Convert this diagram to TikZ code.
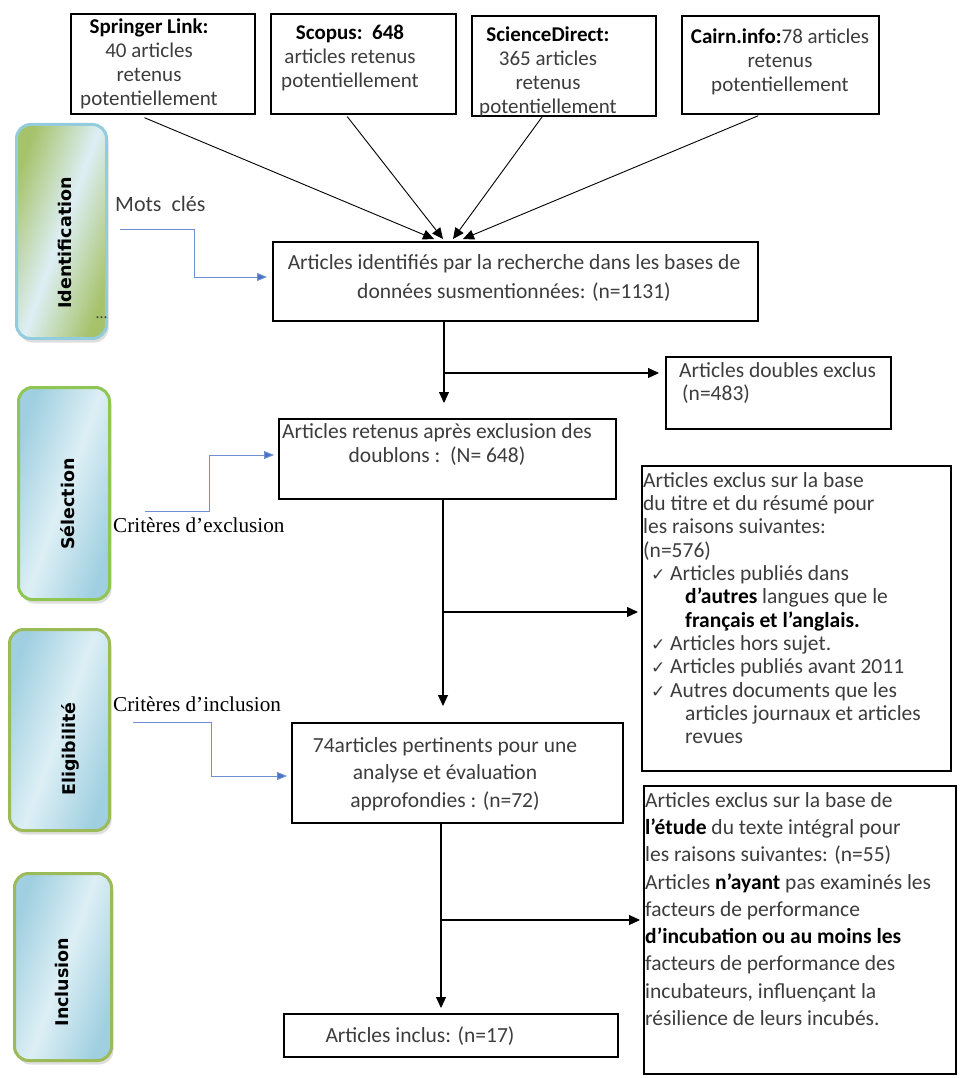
\documentclass[tikz,border=0pt]{standalone}
\usepackage{fontspec}
\setmainfont{Carlito}
\newfontfamily\phasefont{DejaVu Sans}
\newfontfamily\serifont{Liberation Serif}
\newfontfamily\checkfont{DejaVu Sans}
\usetikzlibrary{arrows.meta,shadows}
\definecolor{txtgray}{HTML}{3C3C3C}
\definecolor{linkblue}{HTML}{6F8FD0}
\definecolor{tipblue}{HTML}{4472C4}
\definecolor{idborder}{HTML}{93CDDD}
\definecolor{selborder}{HTML}{8FC653}
\definecolor{eliborder}{HTML}{9BBB59}
\definecolor{phlight}{HTML}{DDEFF5}
\definecolor{phblue}{HTML}{9FCFE0}
\definecolor{idgreen}{HTML}{A6C26A}
\newcommand\chk{\makebox[19pt][l]{\checkfont\fontsize{17}{17}\selectfont ✓}}
\newcommand\bk[1]{{\bfseries\color{black}#1}}
\begin{document}
\begin{tikzpicture}[x=1pt,y=-1pt,
  box/.style={draw=black,line width=2pt,inner sep=0pt,anchor=north west},
  txt/.style={inner sep=0pt,text=txtgray,align=center,anchor=north},
  txtl/.style={inner sep=0pt,text=txtgray,align=left,anchor=north west},
  conn/.style={draw=black,line width=1.1pt,-{Triangle[length=11pt,width=10pt]}},
  thin/.style={draw=black,line width=0.9pt,-{Triangle[length=11pt,width=10pt]}},
  bconn/.style={draw=linkblue,line width=1pt,-{Triangle[length=10pt,width=8pt,fill=tipblue]}},
  phase/.style={draw,line width=3pt,rounded corners=14pt,anchor=north west,inner sep=0pt,
    drop shadow={shadow xshift=2pt,shadow yshift=-4pt,opacity=0.25}},
  phtxt/.style={inner sep=0pt,font=\phasefont\bfseries\fontsize{17.5}{18}\selectfont,text=black},
  lbl/.style={inner sep=0pt,text=txtgray,font=\fontsize{22}{24}\selectfont},
  crit/.style={inner sep=0pt,text=black,font=\serifont\fontsize{21.2}{23}\selectfont}
]
\useasboundingbox (0,0) rectangle (960,1078);

% ---------- phase boxes ----------
\node[phase,draw=idborder,left color=idgreen,right color=idgreen,middle color=phlight,shading angle=70,
  minimum width=90pt,minimum height=214pt] (pid) at (15,123) {};
\node[phase,draw=selborder,left color=phblue,right color=phblue,middle color=phlight,shading angle=70,
  minimum width=91pt,minimum height=212pt] (psel) at (17,386) {};
\node[phase,draw=eliborder,left color=phblue,right color=phblue,middle color=phlight,shading angle=70,
  minimum width=100pt,minimum height=201pt] (peli) at (8,628) {};
\node[phase,draw=eliborder,left color=phblue,right color=phblue,middle color=phlight,shading angle=70,
  minimum width=97pt,minimum height=187pt] (pinc) at (13,872) {};
\node[phtxt] (tid) at (65,243) {\rotatebox{90}{Identification}};
\node[phtxt] (tsel) at (68,504) {\rotatebox{90}{Sélection}};
\node[phtxt] (teli) at (70,749) {\rotatebox{90}{Eligibilité}};
\node[phtxt] (tinc) at (62,982) {\rotatebox{90}{Inclusion}};

% ---------- top source boxes ----------
\node[box,minimum width=184pt,minimum height=100pt] (spr) at (70,13) {};
\node[box,minimum width=185pt,minimum height=100pt] (sco) at (270,13) {};
\node[box,minimum width=184pt,minimum height=100pt] (sd) at (471,15) {};
\node[box,minimum width=197pt,minimum height=98pt] (cai) at (681,15) {};

\node[txt,font=\fontsize{21}{23.7}\selectfont] (tspr) at (149,19)
  {\bk{Springer Link:}\\40 articles\\retenus\\potentiellement};
\node[txt,font=\fontsize{21}{24}\selectfont] (tsco) at (350,25)
  {\bk{Scopus:\ \ 648}\\articles retenus\\potentiellement};
\node[txt,font=\fontsize{21}{23.7}\selectfont] (tsd) at (548,27)
  {\bk{ScienceDirect:}\\365 articles\\retenus\\potentiellement};
\node[txt,font=\fontsize{21}{24}\selectfont] (tcai) at (780,29)
  {\bk{Cairn.info:}78 articles\\retenus\\potentiellement};

% ---------- main flow boxes ----------
\node[box,minimum width=485pt,minimum height=79pt] (b1) at (272,241) {};
\node[txt,font=\fontsize{21.5}{29}\selectfont] (tb1) at (514,254)
  {Articles identifiés par la recherche dans les bases de\\données susmentionnées: (n=1131)};

\node[box,minimum width=225pt,minimum height=72pt] (dbl) at (665,356) {};
\node[txtl,font=\fontsize{21.5}{23}\selectfont] (tdbl) at (679,362)
  {Articles doubles exclus\\\hspace*{3pt}(n=483)};

\node[box,minimum width=337pt,minimum height=80pt] (b2) at (278,418) {};
\node[txt,font=\fontsize{21.5}{24}\selectfont] (tb2) at (437,423)
  {Articles retenus après exclusion des\\doublons :\ \ (N= 648)};

\node[box,minimum width=309pt,minimum height=305pt] (ex1) at (641,465) {};
\node[txtl,font=\fontsize{21.5}{23.35}\selectfont] (tex1) at (643,472)
  {Articles exclus sur la base\\
   du titre et du résumé pour\\
   les raisons suivantes:\\
   (n=576)\\
   \hspace*{8pt}\chk Articles publiés dans\\
   \hspace*{42pt}\bk{d’autres} langues que le\\
   \hspace*{42pt}\bk{français et l’anglais.}\\
   \hspace*{8pt}\chk Articles hors sujet.\\
   \hspace*{8pt}\chk Articles publiés avant 2011\\
   \hspace*{8pt}\chk Autres documents que les\\
   \hspace*{42pt}articles journaux et articles\\
   \hspace*{42pt}revues};

\node[box,minimum width=331pt,minimum height=100pt] (b3) at (291,722) {};
\node[txt,font=\fontsize{21.5}{27.5}\selectfont] (tb3) at (445,737)
  {74articles pertinents pour une\\analyse et évaluation\\approfondies : (n=72)};

\node[box,minimum width=312pt,minimum height=288pt] (ex2) at (643,785) {};
\node[txtl,font=\fontsize{21.5}{27.3}\selectfont] (tex2) at (645,792)
  {Articles exclus sur la base de\\
   \bk{l’étude} du texte intégral pour\\
   les raisons suivantes: (n=55)\\
   Articles \bk{n’ayant} pas examinés les\\
   facteurs de performance\\
   \bk{d’incubation ou au moins les}\\
   facteurs de performance des\\
   incubateurs, influençant la\\
   résilience de leurs incubés.};

\node[box,minimum width=334pt,minimum height=43pt] (b4) at (283,1013) {};
\node[txt,font=\fontsize{21.5}{23}\selectfont] (tb4) at (420,1027)
  {Articles inclus: (n=17)};

% ---------- side labels ----------
\node[lbl,anchor=west] (mots) at (115,204) {Mots\ \ clés};
\node[lbl,anchor=west] (dots) at (96,318) {\fontsize{16}{16}\selectfont …};
\node[crit,anchor=west] (cexc) at (113,525) {Critères d’exclusion};
\node[crit,anchor=west] (cinc) at (113,704) {Critères d’inclusion};

% ---------- connectors: sources to b1 ----------
\coordinate (e1) at (434,239);
\coordinate (e2) at (443,239);
\coordinate (e3) at (453,239);
\coordinate (e4) at (463,239);
\draw[thin,shorten <=7pt] (spr.south -| 138,0) -- (e1);
\draw[thin,shorten <=2pt] (sco.south -| 346,0) -- (e2);
\draw[thin,shorten <=0pt] (sd.south -| 542,0) -- (e3);
\draw[thin,shorten <=2pt] (cai.south -| 760,0) -- (e4);

% ---------- main vertical flow ----------
\coordinate (v1) at (444,0);
\coordinate (v2) at (443,0);
\coordinate (v3) at (441,0);
\draw[conn,shorten >=15pt] (v1 |- b1.south) -- (v1 |- b2.north);
\draw[conn,shorten >=16pt] (v2 |- b2.south) -- (v2 |- b3.north);
\draw[conn,shorten >=5pt] (v3 |- b3.south) -- (v3 |- b4.north);

\coordinate (j1) at (444,373);
\coordinate (j2) at (443,612);
\coordinate (j3) at (441,920);
\draw[conn,shorten >=6pt] (j1) -- (j1 -| dbl.west);
\draw[conn,shorten >=3pt] (j2) -- (j2 -| ex1.west);
\draw[conn,shorten >=3pt] (j3) -- (j3 -| ex2.west);

% ---------- blue connectors ----------
\coordinate (m0) at (120,229);
\coordinate (x0) at (145,511);
\coordinate (i0) at (133,722);
\draw[bconn,shorten >=5pt] (m0) -- (194,229) -- (194,277) -- (b1.west |- 0,277);
\draw[bconn,shorten >=4pt] (x0) -- (209,511) -- (209,455) -- (b2.west |- 0,455);
\draw[bconn,shorten >=4pt] (i0) -- (211,722) -- (211,776) -- (b3.west |- 0,776);
\end{tikzpicture}
\end{document}
